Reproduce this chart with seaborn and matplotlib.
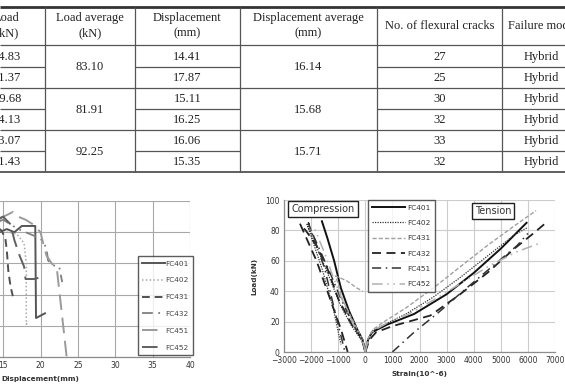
import matplotlib
matplotlib.use("Agg")
import matplotlib.pyplot as plt
import seaborn as sns
import pandas as pd
from matplotlib.lines import Line2D

# ---------------- table data ----------------
tab_headers = ["Load\n(kN)", "Load average\n(kN)", "Displacement\n(mm)",
               "Displacement average\n(mm)", "No. of flexural cracks", "Failure mode"]
tab_load = ["84.83", "81.37", "79.68", "84.13", "93.07", "91.43"]
tab_load_avg = ["83.10", "81.91", "92.25"]
tab_disp = ["14.41", "17.87", "15.11", "16.25", "16.06", "15.35"]
tab_disp_avg = ["16.14", "15.68", "15.71"]
tab_cracks = ["27", "25", "30", "32", "33", "32"]
tab_mode = ["Hybrid"] * 6

# ---------------- load-displacement data ----------------
specimens = ["FC401", "FC402", "FC431", "FC432", "FC451", "FC452"]
ld_disp = {
    "FC401": [0, 3, 6, 9, 12, 13.5, 14.5, 15.5, 16.5, 17.5, 18.5, 19.3, 19.4, 20.6],
    "FC402": [0, 3, 6, 9, 12, 14, 15.5, 16.8, 17.8, 18.1, 18.1, 18.4],
    "FC431": [0, 3, 6, 9, 12, 14, 14.8, 15.3, 15.5, 15.7, 16.0, 16.3],
    "FC432": [0, 3, 6, 9, 12, 14, 15, 17, 19, 20, 20.8, 21.0, 21.5, 22.5, 22.9],
    "FC451": [0, 3, 6, 9, 12, 14, 15.5, 16.3, 17, 18, 19, 20, 20.3, 20.8, 21.5, 22.2, 23.5],
    "FC452": [0, 3, 6, 9, 12, 14, 15, 16, 16.5, 17.2, 17.8, 18.0, 19.2, 20.6],
}
ld_load = {
    "FC401": [0, 30, 55, 70, 78, 83, 80, 82, 80, 84, 84, 84, 25, 28],
    "FC402": [0, 28, 52, 68, 76, 81, 80, 79, 73, 60, 21, 23],
    "FC431": [0, 30, 55, 70, 79, 84, 81, 76, 68, 55, 45, 39],
    "FC432": [0, 29, 53, 69, 78, 86, 88, 82, 78, 76, 70, 62, 59, 58, 48],
    "FC451": [0, 31, 57, 73, 83, 88, 91, 93, 90, 88, 85, 80, 74, 65, 60, 56, 0],
    "FC452": [0, 30, 55, 71, 81, 87, 90, 85, 75, 65, 58, 50, 50, 52],
}

# ---------------- load-strain data ----------------
comp_strain = {
    "FC401": [0, -100, -300, -600, -900, -1150, -1400, -1600],
    "FC402": [0, -150, -500, -900, -1300, -1700, -2000, -2150, -1600, -1200, -900],
    "FC431": [0, -150, -500, -850, -1000, -1100, -700, -300, -100],
    "FC432": [0, -100, -500, -1000, -1400, -1800, -2200, -2400, -1800, -1300, -900, -650],
    "FC451": [0, -120, -450, -900, -1300, -1700, -2000, -2100, -1500, -1100, -750],
    "FC452": [0, -100, -400, -800, -1200, -1500, -1800, -1900],
}
comp_load = {
    "FC401": [0, 8, 15, 27, 42, 60, 75, 86],
    "FC402": [0, 8, 17, 30, 48, 65, 78, 84, 55, 30, 5],
    "FC431": [0, 10, 22, 35, 45, 50, 47, 42, 40],
    "FC432": [0, 8, 18, 35, 55, 70, 80, 84, 60, 35, 15, 0],
    "FC451": [0, 8, 18, 35, 52, 68, 80, 85, 55, 25, 0],
    "FC452": [0, 8, 17, 32, 50, 65, 78, 83],
}
ten_strain = {
    "FC401": [0, 100, 250, 800, 1800, 3000, 4000, 5000, 5950],
    "FC402": [0, 100, 250, 700, 1500, 2500, 3500, 4500, 5500, 6000],
    "FC431": [0, 100, 300, 700, 1500, 2500, 3500, 4500, 5500, 6300],
    "FC432": [0, 150, 400, 1000, 1600, 2400, 3500, 4500, 5500, 6200, 6600],
    "FC451": [1000, 1800, 2700, 3600, 4600, 5600, 6000],
    "FC452": [0, 100, 300, 800, 1600, 2600, 3600, 4600, 5600, 6500],
}
ten_load = {
    "FC401": [0, 8, 13, 18, 25, 38, 52, 68, 85],
    "FC402": [0, 8, 14, 18, 25, 36, 49, 63, 77, 82],
    "FC431": [0, 9, 15, 20, 29, 42, 56, 70, 83, 93],
    "FC432": [0, 8, 13, 17, 20, 24, 38, 52, 68, 78, 84],
    "FC451": [0, 13, 26, 40, 55, 70, 78],
    "FC452": [0, 8, 14, 19, 25, 35, 46, 57, 66, 72],
}

# ---------------- styles ----------------
left_styles = {
    "FC401": dict(color="#555555", ls="-", lw=1.4),
    "FC402": dict(color="#a8a8a8", ls=(0, (1, 1.5)), lw=1.1),
    "FC431": dict(color="#505050", ls=(0, (4, 2.5)), lw=1.4),
    "FC432": dict(color="#808080", ls=(0, (6, 3, 1, 3, 1, 3)), lw=1.3),
    "FC451": dict(color="#9a9a9a", ls=(0, (8, 4)), lw=1.4),
    "FC452": dict(color="#606060", ls=(0, (8, 4)), lw=1.4),
}
right_styles = {
    "FC401": dict(color="#111111", ls="-", lw=1.4),
    "FC402": dict(color="#333333", ls=(0, (1, 1)), lw=0.9),
    "FC431": dict(color="#a0a0a0", ls=(0, (3, 1.5)), lw=1.0),
    "FC432": dict(color="#222222", ls=(0, (5, 3)), lw=1.3),
    "FC451": dict(color="#333333", ls=(0, (6, 3, 1, 3)), lw=1.1),
    "FC452": dict(color="#b0b0b0", ls=(0, (7, 3, 1, 3, 1, 3)), lw=1.1),
}

W, H = 565, 389
fig = plt.figure(figsize=(W / 100, H / 100), dpi=100)
fig.patch.set_facecolor("white")


def fx(x):
    return x / W


def fy(y):
    return 1 - y / H


# ---------------- table ----------------
axt = fig.add_axes([0, 0, 1, 1])
axt.set_xlim(0, W)
axt.set_ylim(H, 0)
axt.axis("off")
serif = "Liberation Serif"
col_lines = [45, 135, 240, 377, 502]
col_centers = [7, 90, 187.5, 308.5, 439.5, 541]
row_lines = [45, 67, 88, 109, 130, 151, 172]
lc = "#555555"
axt.hlines(7, 0, W, color="#333333", lw=2.0)
axt.hlines(172, 0, W, color="#444444", lw=1.2)
for y in [45, 88, 130]:
    axt.hlines(y, 0, W, color=lc, lw=0.9)
for y in [67, 109, 151]:
    for (a, b) in [(0, 45), (135, 240), (377, W)]:
        axt.hlines(y, a, b, color=lc, lw=0.9)
for x in col_lines:
    axt.vlines(x, 7, 172, color=lc, lw=0.9)
for cx, h in zip(col_centers, tab_headers):
    axt.text(cx, 26, h, ha="center", va="center", family=serif, fontsize=9,
             linespacing=1.35, color="#222222")
row_cent = [(row_lines[i] + row_lines[i + 1]) / 2 for i in range(6)]
grp_cent = [(45 + 88) / 2, (88 + 130) / 2, (130 + 172) / 2]
for i in range(6):
    for cx, vals in [(col_centers[0], tab_load), (col_centers[2], tab_disp),
                     (col_centers[4], tab_cracks), (col_centers[5], tab_mode)]:
        axt.text(cx, row_cent[i] + 0.5, vals[i], ha="center", va="center",
                 family=serif, fontsize=9, color="#222222")
for j in range(3):
    axt.text(col_centers[1], grp_cent[j] + 0.5, tab_load_avg[j], ha="center",
             va="center", family=serif, fontsize=9, color="#222222")
    axt.text(col_centers[3], grp_cent[j] + 0.5, tab_disp_avg[j], ha="center",
             va="center", family=serif, fontsize=9, color="#222222")

tick_fs = 5.5


def style_axes(ax, gridc):
    ax.set_facecolor("none")
    ax.grid(True, color=gridc, lw=0.8)
    ax.set_axisbelow(True)
    for s in ["top", "right"]:
        ax.spines[s].set_visible(False)
    for s in ["left", "bottom"]:
        ax.spines[s].set_color("#8c8c8c")
        ax.spines[s].set_linewidth(0.9)
    ax.tick_params(length=0, labelsize=tick_fs, colors="#333333", pad=3)


# ---------------- left chart ----------------
axl = fig.add_axes([fx(-109), fy(357), 299 / W, 156 / H])
for sp in specimens:
    df = pd.DataFrame({"Displacement": ld_disp[sp], "Load": ld_load[sp]})
    st = left_styles[sp]
    sns.lineplot(data=df, x="Displacement", y="Load", sort=False, estimator=None,
                 color=st["color"], linestyle=st["ls"], lw=st["lw"], ax=axl)
axl.set_xlim(0, 40)
axl.set_ylim(0, 100)
axl.set_xticks(range(0, 41, 5))
axl.set_yticks(range(0, 101, 20))
style_axes(axl, "#a8a8a8")
axl.set_xlabel("Displacement(mm)", fontsize=5.2, fontweight="bold", labelpad=4, color="#333333")
axl.set_ylabel("Load(kN)", fontsize=5.2, fontweight="bold")
hl = [Line2D([], [], color=left_styles[s]["color"], linestyle=left_styles[s]["ls"],
             lw=left_styles[s]["lw"]) for s in specimens]
legl = fig.legend(hl, specimens, loc="upper left", bbox_to_anchor=(fx(138), fy(256)),
                  fontsize=5.3, frameon=True, fancybox=False, handlelength=3.0,
                  labelspacing=1.45, borderpad=0.6, handletextpad=0.1, borderaxespad=0)
legl.get_frame().set_edgecolor("#333333")
legl.get_frame().set_linewidth(1.0)
for t in legl.get_texts():
    t.set_color("#444444")

# ---------------- right chart ----------------
axr = fig.add_axes([fx(284), fy(352), 271 / W, 152 / H])
for sp in specimens:
    st = right_styles[sp]
    for xs, ys in [(comp_strain[sp], comp_load[sp]), (ten_strain[sp], ten_load[sp])]:
        df = pd.DataFrame({"Strain": xs, "Load": ys})
        sns.lineplot(data=df, x="Strain", y="Load", sort=False, estimator=None,
                     color=st["color"], linestyle=st["ls"], lw=st["lw"], ax=axr)
axr.set_xlim(-3000, 7000)
axr.set_ylim(0, 100)
axr.set_xticks(range(-3000, 7001, 1000))
axr.set_yticks(range(0, 101, 20))
style_axes(axr, "#cccccc")
axr.set_xlabel("Strain(10^-6)", fontsize=5.2, fontweight="bold", labelpad=4, color="#333333")
axr.set_ylabel("Load(kN)", fontsize=5.2, fontweight="bold", labelpad=6, color="#333333")
hr = [Line2D([], [], color=right_styles[s]["color"], linestyle=right_styles[s]["ls"],
             lw=right_styles[s]["lw"]) for s in specimens]
legr = fig.legend(hr, specimens, loc="upper left", bbox_to_anchor=(fx(368), fy(200)),
                  fontsize=5.3, frameon=True, fancybox=False, handlelength=4.4,
                  labelspacing=1.25, borderpad=0.6, handletextpad=0.3, borderaxespad=0)
legr.get_frame().set_edgecolor("#333333")
legr.get_frame().set_linewidth(1.0)
for t in legr.get_texts():
    t.set_color("#333333")

box = dict(boxstyle="square,pad=0.3", fc="white", ec="#222222", lw=1.0)
fig.text(fx(323), fy(209), "Compression", ha="center", va="center", fontsize=7,
         color="#333333", bbox=box)
fig.text(fx(493), fy(211), "Tension", ha="center", va="center", fontsize=7,
         color="#333333", bbox=box)

fig.savefig("out.png", dpi=100, facecolor="white")
